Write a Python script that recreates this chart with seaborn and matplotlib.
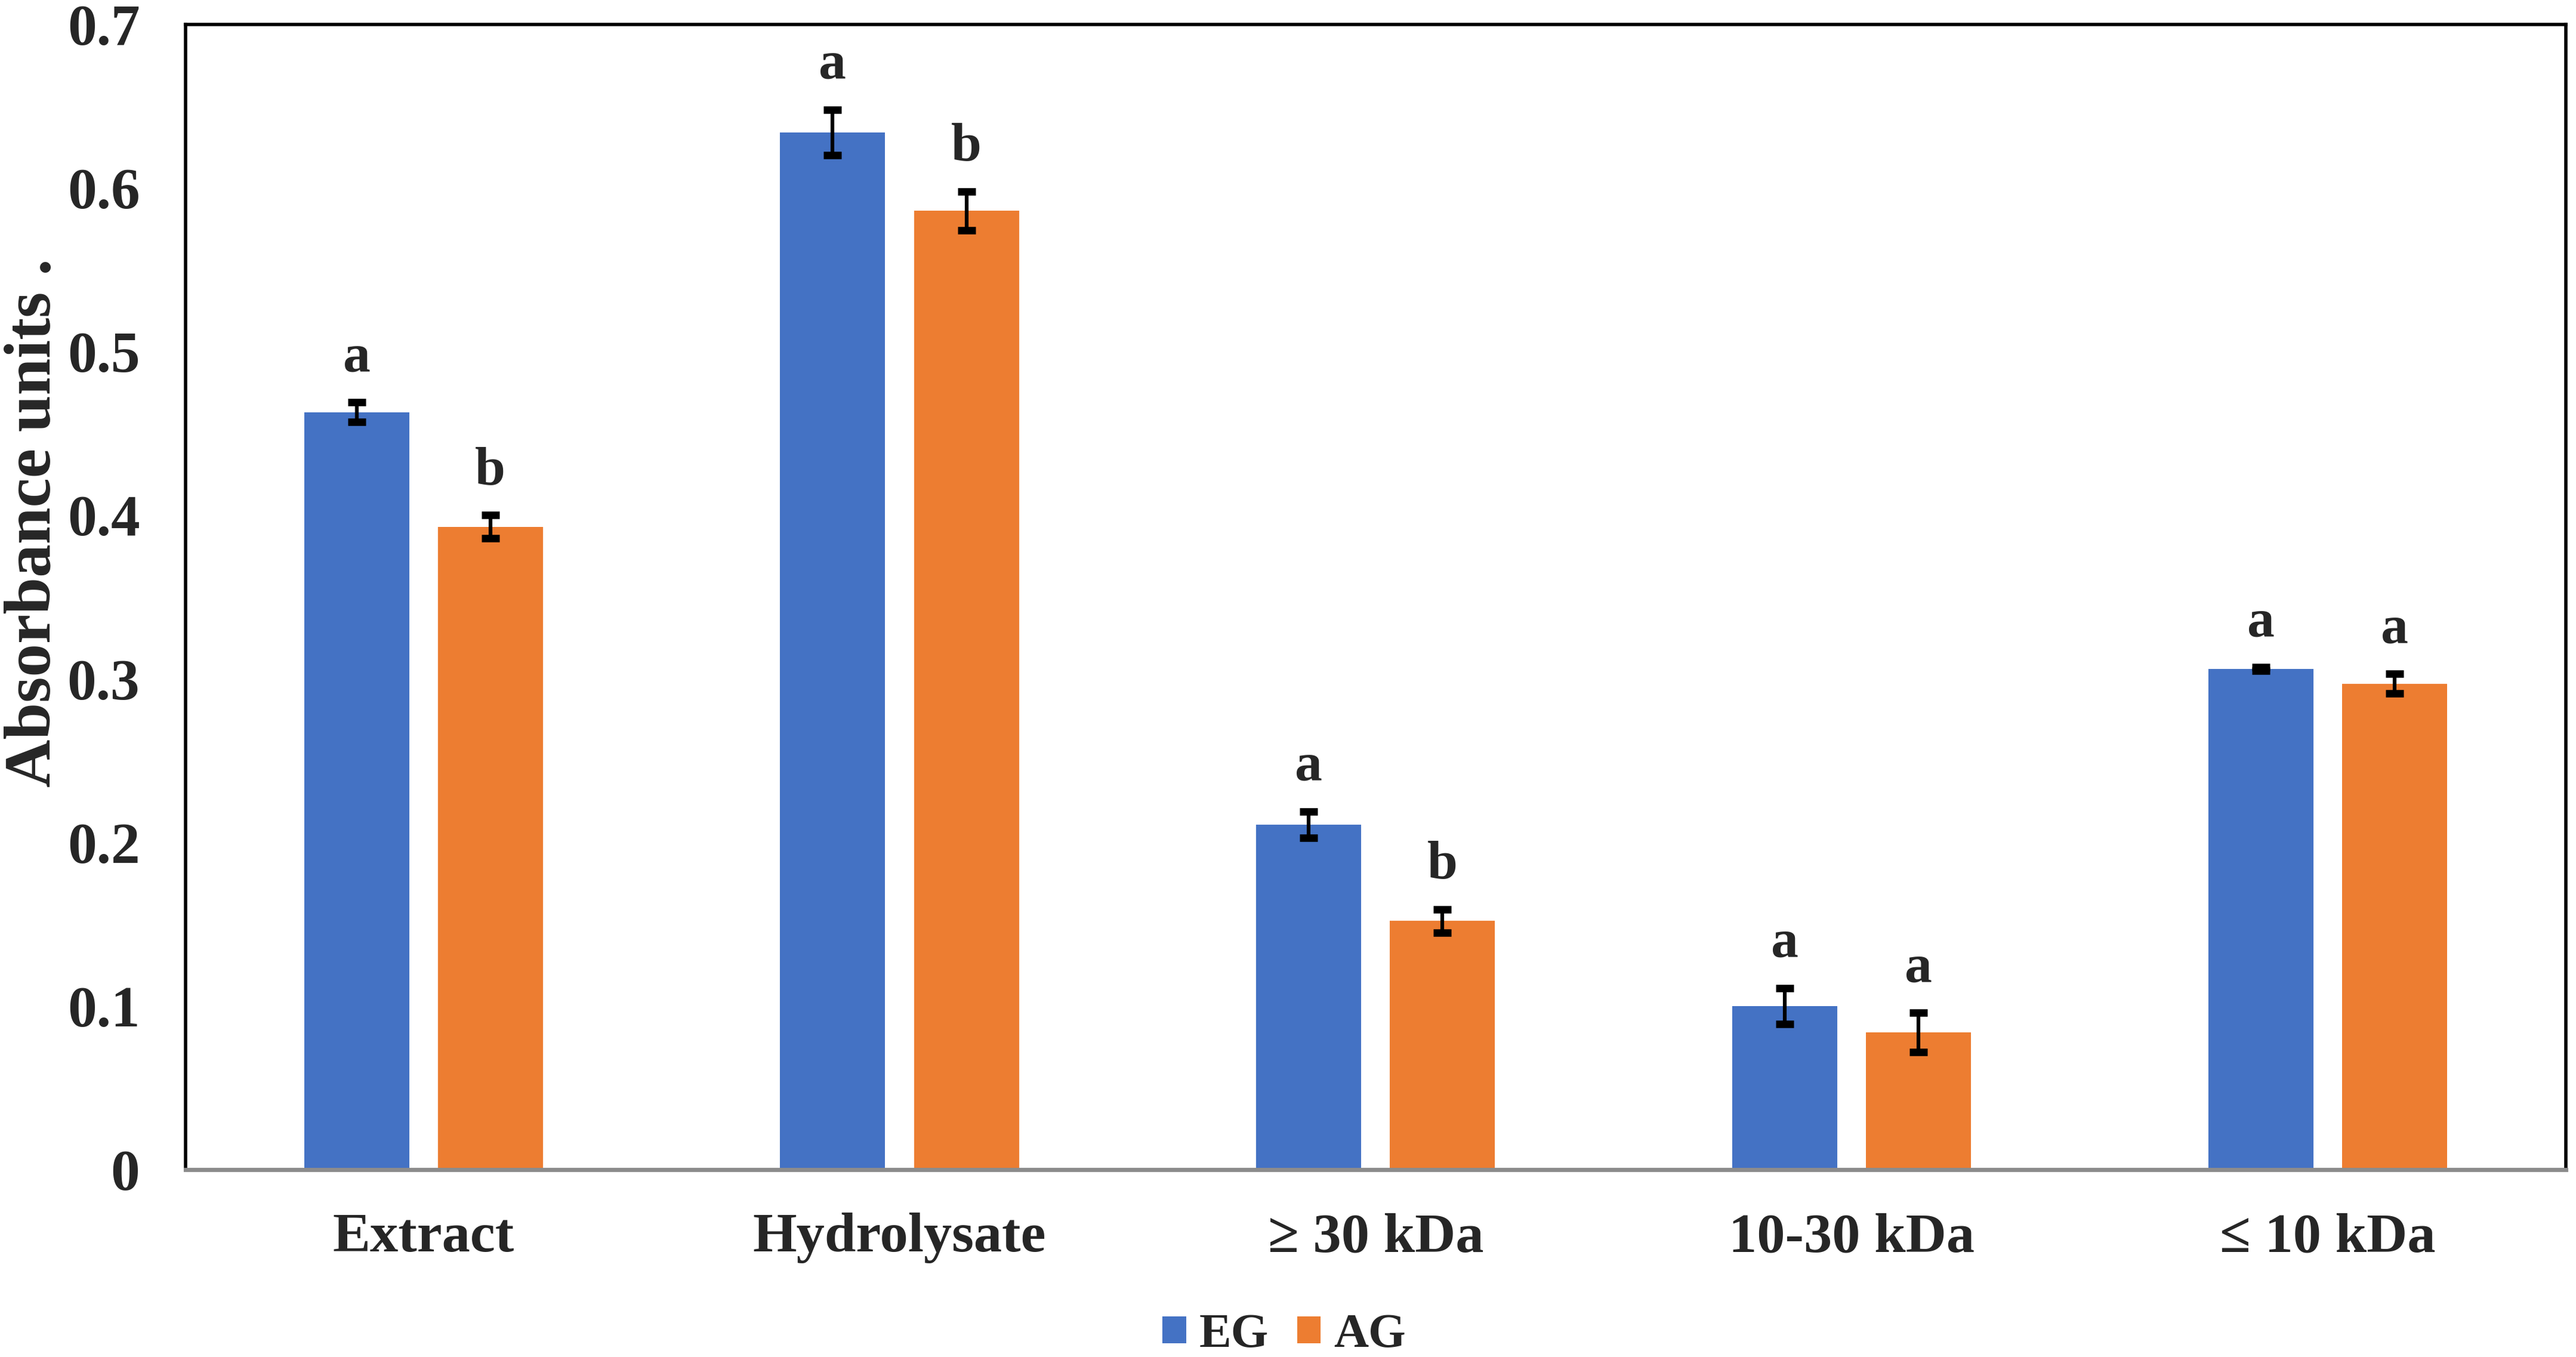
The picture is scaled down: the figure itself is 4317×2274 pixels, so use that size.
import numpy as np
import pandas as pd
import matplotlib
matplotlib.use("Agg")
import matplotlib.pyplot as plt
import seaborn as sns


# ==========================================
# DATA
# ==========================================

fractions = ["Extract", "Hydrolysate", "\u2265 30 kDa", "10-30 kDa", "\u2264 10 kDa"]
groups = ["EG", "AG"]

eg_values = [0.463, 0.634, 0.211, 0.100, 0.306]
ag_values = [0.393, 0.586, 0.152, 0.084, 0.297]

eg_errors = [0.006, 0.014, 0.008, 0.011, 0.001]
ag_errors = [0.007, 0.012, 0.007, 0.012, 0.006]

eg_letters = ["a", "a", "a", "a", "a"]
ag_letters = ["b", "b", "b", "a", "a"]

colors = ["#4472C4", "#ED7D31"]


# ==========================================
# LONG TABLE FOR SEABORN
# ==========================================

df = pd.DataFrame({
    "fraction": fractions * 2,
    "group": ["EG"] * len(fractions) + ["AG"] * len(fractions),
    "value": eg_values + ag_values,
})

errors = {"EG": eg_errors, "AG": ag_errors}
letters = {"EG": eg_letters, "AG": ag_letters}


# ==========================================
# STYLE
# ==========================================

sns.set_style("white")
plt.rcParams["font.family"] = ["Liberation Serif", "DejaVu Serif"]
plt.rcParams["font.weight"] = "bold"

fig = plt.figure(figsize=(43.17, 22.74), dpi=100)
ax = fig.add_axes([0.072, 0.138, 0.924, 0.844])


# ==========================================
# BARS
# ==========================================

sns.barplot(
    data=df,
    x="fraction",
    y="value",
    hue="group",
    hue_order=groups,
    order=fractions,
    palette=colors,
    width=0.562,
    gap=0.215,
    linewidth=0,
    errorbar=None,
    saturation=1,
    ax=ax,
)


# ==========================================
# ERROR BARS + LETTERS
# ==========================================

for container, grp in zip(ax.containers, groups):
    for patch, err, letter in zip(container.patches, errors[grp], letters[grp]):
        xc = patch.get_x() + patch.get_width() / 2
        h = patch.get_height()
        ax.errorbar(
            xc, h, yerr=err,
            fmt="none", ecolor="black",
            elinewidth=4.5, capsize=11, capthick=9,
        )
        ax.text(
            xc, h + err + 0.012, letter,
            ha="center", va="bottom",
            fontsize=66, fontweight="bold",
        )


# ==========================================
# AXES
# ==========================================

ax.set_ylim(0, 0.7)
ax.set_xlim(-0.5, len(fractions) - 0.5)
ax.set_yticks(np.arange(0, 0.71, 0.1))
ax.set_yticklabels(["0", "0.1", "0.2", "0.3", "0.4", "0.5", "0.6", "0.7"])

ax.tick_params(axis="both", length=0)
ax.tick_params(axis="y", labelsize=70, pad=55)
ax.tick_params(axis="x", labelsize=68, pad=52)
for lab in ax.get_xticklabels() + ax.get_yticklabels():
    lab.set_fontweight("bold")

ax.set_xlabel("")
ax.set_ylabel("Absorbance units .", fontsize=80, fontweight="bold")
ax.yaxis.set_label_coords(-0.051, 0.565)

for side in ["top", "left", "right"]:
    ax.spines[side].set_visible(True)
    ax.spines[side].set_color("black")
    ax.spines[side].set_linewidth(4)
ax.spines["bottom"].set_color("#8c8c8c")
ax.spines["bottom"].set_linewidth(5)


# ==========================================
# LEGEND
# ==========================================

handles, labels = ax.get_legend_handles_labels()
ax.get_legend().remove()
fig.legend(
    handles, labels,
    loc="lower center",
    bbox_to_anchor=(0.4985, 0.0),
    ncol=2,
    frameon=False,
    handlelength=0.49,
    handleheight=0.49,
    handletextpad=0.27,
    columnspacing=0.6,
    borderpad=0,
    borderaxespad=0,
    prop={"weight": "bold", "size": 58},
)

fig.savefig("out.png", dpi=100)
